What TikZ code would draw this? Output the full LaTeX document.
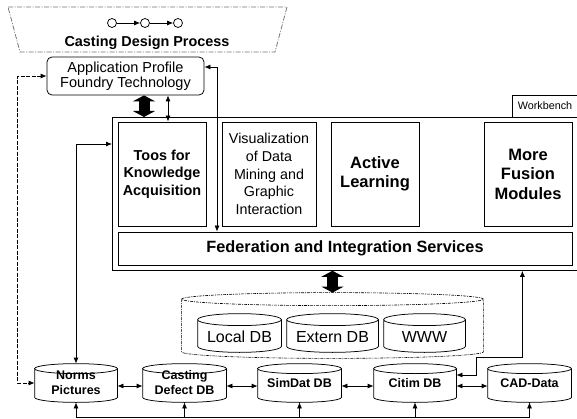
\documentclass[tikz,border=0pt]{standalone}
\usepackage{fontspec}
\setmainfont{Liberation Sans}
\usetikzlibrary{positioning}
\usetikzlibrary{arrows.meta}
\usetikzlibrary{calc}
\tikzset{
    workbench diagram/.style={
            x=1pt,y=-1pt,line width=0.75pt,
            arrow/.style={-{Latex[length=6pt,width=5pt]}},
            both/.style={{Latex[length=6pt,width=5pt]}-{Latex[length=6pt,width=5pt]}},
            dashboth/.style={both,dash pattern=on 4pt off 1.5pt},
            fat/.style={line width=11pt,{Triangle[length=6pt,width=22pt]}-{Triangle[length=6pt,width=22pt]}},
            dot/.style={circle,draw,minimum size=9pt,inner sep=0pt},
            module/.style={draw,minimum width=88pt,minimum height=104pt,align=center,inner sep=1pt},
            db/.style={minimum width=82pt,minimum height=38pt,align=center,inner sep=1pt,
                font=\fontsize{12.5}{15}\selectfont\bfseries},
            store/.style={minimum width=83pt,minimum height=38pt,inner sep=1pt,text height=19pt,
                font=\fontsize{16}{18}\selectfont}
        }
    }
% cylinder round a node: [options]{y radius}{node}
\newcommand\dbdraw[3][]{%
    \draw [#1] let \p1=(#3.north west), \p2=(#3.south east), \n1={(\x2-\x1)/2} in
        ({\x1},{\y1-#2}) -- ({\x1},{\y2+#2}) arc [start angle=180, end angle=360, x radius=\n1, y radius=#2]
        -- ({\x2},{\y1-#2}) arc [start angle=0, end angle=360, x radius=\n1, y radius=#2];
}

\begin{document}
\begin{tikzpicture}[workbench diagram]
    \useasboundingbox (0,0) rectangle (577,419);

    % casting design process
    \draw [black!55, dash pattern=on 5pt off 1.5pt on 1pt off 1.5pt] (8,7) -- (287,7) -- (275,52) -- (20,52) -- cycle;
    \node [dot] (c1) at (112,23) {};
    \node [dot] (c2) at (145,23) {};
    \node [dot] (c3) at (178,23) {};
    \draw [arrow] (c1) -- (c2);
    \draw [arrow] (c2) -- (c3);
    \node [font=\fontsize{14.4}{16}\selectfont\bfseries] (proc) at (147,43) {Casting Design Process};

    \node [draw, rounded corners=5pt, minimum width=157pt, minimum height=38pt, align=center,
        font=\fontsize{14.5}{15}\selectfont] (app) at (125.5,76) {Application Profile\\Foundry Technology};

    % workbench
    \node [draw, anchor=north west, minimum width=480pt, minimum height=153pt] (wb) at (112,117) {};
    \node [draw, minimum width=66pt, minimum height=22pt, font=\fontsize{10.8}{12}\selectfont] (tag) at (545,106) {Workbench};

    \node [module, font=\fontsize{14.4}{17.5}\selectfont\bfseries] (toos) at (162,174) {Toos for\\Knowledge\\Acquisition};
    \node [module, minimum width=94pt, font=\fontsize{14.3}{17.7}\selectfont] (vis) at (269,174) {Visualization\\of Data\\Mining and\\Graphic\\Interaction};
    \node [module, font=\fontsize{16.5}{18.5}\selectfont\bfseries] (act) at (375,174) {Active\\Learning};
    \node [module, font=\fontsize{16.5}{19.5}\selectfont\bfseries] (more) at (528,174) {More\\Fusion\\Modules};
    \node [draw, minimum width=454pt, minimum height=33pt, font=\fontsize{16.3}{18}\selectfont\bfseries] (fed) at (345,248.5) {Federation and Integration Services};

    % data sources
    \node [minimum width=301pt, minimum height=65pt] (src) at (332.5,325.5) {};
    \dbdraw[line width=0.6pt, dash pattern=on 3pt off 1pt on 1pt off 1pt]{6.5pt}{src}
    \node [store] (local) at (239.5,333) {Local DB};
    \node [store, minimum width=91pt] (ext) at (332.5,333) {Extern DB};
    \node [store, minimum width=81pt] (www) at (424.5,333) {WWW};
    \foreach \db in {local,ext,www} {\dbdraw{6pt}{\db}}

    \node [db] (norms) at (76,383) {Norms\\Pictures};
    \node [db, minimum width=83pt] (cast) at (184.5,383) {Casting\\Defect DB};
    \node [db, minimum width=83pt] (simdat) at (299.5,383) {SimDat DB};
    \node [db] (citim) at (415,383) {Citim DB};
    \node [db, minimum width=83pt] (cad) at (529.5,383) {CAD-Data};
    \foreach \db in {norms,cast,simdat,citim,cad} {\dbdraw{5pt}{\db}}

    \draw [fat] ([xshift=18.5pt]app.south) -- ([xshift=18.5pt]app.south |- wb.north);
    \draw [fat] (wb.south -| src.north) -- (src.north);
    \draw [both] ([xshift=42.5pt]app.south) -- ([xshift=6pt]toos.north);
    \draw [both] ([yshift=9pt]app.east) -| ([xshift=-128pt]fed.north);
    \draw [dashboth] (app.west) -- ++(-29,0) |- (norms.west);
    \coordinate (kn) at (0,144);
    \draw [both] (norms.north) |- (wb.west |- kn);
    \draw [both] ([yshift=8pt]citim.east) -- ++(20,0) -- ++(0,-18) -- ++(46,0) -- ([xshift=170pt]wb.south);

    \draw [both] ([yshift=-3pt]norms.east) -- ([yshift=-3pt]cast.west);
    \draw [both] ([yshift=-3pt]cast.east) -- ([yshift=-3pt]simdat.west);
    \draw [both] ([yshift=-3pt]simdat.east) -- ([yshift=-3pt]citim.west);
    \draw [both] ([yshift=-3pt]citim.east) -- ([yshift=-3pt]cad.west);

    \coordinate (bus) at (0,417);
    \draw (norms.south |- bus) -- (cad.south |- bus);
    \foreach \db in {norms,cast,simdat,citim,cad}
        \draw [arrow] (\db.south |- bus) -- (\db.south);

\end{tikzpicture}
\end{document}
